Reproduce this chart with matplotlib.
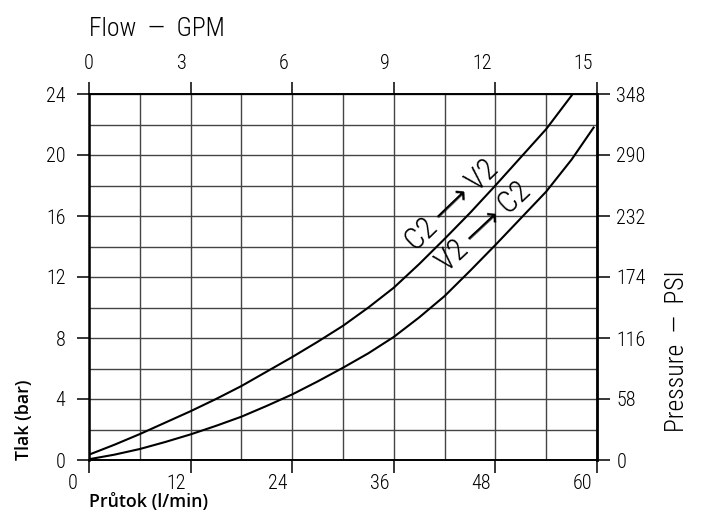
import numpy as np
import matplotlib
matplotlib.use('Agg')
import matplotlib.pyplot as plt
from matplotlib import font_manager
from matplotlib.transforms import ScaledTranslation

#%% data: flow [l/min] vs pressure drop [bar]
flow_c2v2 = [0, 3, 6, 9, 12, 15, 18, 21, 24, 27, 30, 33, 36, 39, 42, 45, 48, 51, 54, 57]
dp_c2v2 = [0.35, 1.0, 1.7, 2.45, 3.2, 4.0, 4.85, 5.8, 6.75, 7.75, 8.8, 10.0,
           11.3, 12.85, 14.5, 16.2, 18.0, 19.85, 21.7, 23.9]

flow_v2c2 = [0, 3, 6, 9, 12, 15, 18, 21, 24, 27, 30, 33, 36, 39, 42, 45, 48, 51, 54, 57, 59.6]
dp_v2c2 = [0.05, 0.35, 0.72, 1.18, 1.68, 2.24, 2.84, 3.55, 4.3, 5.15, 6.05, 7.0,
           8.07, 9.35, 10.75, 12.4, 14.1, 15.85, 17.6, 19.7, 21.8]

x_ticks = [0, 12, 24, 36, 48, 60]
x_grid = [6, 18, 30, 42, 54]
y_ticks = [0, 4, 8, 12, 16, 20, 24]
y_grid = [2, 6, 10, 14, 18, 22]
gpm_labels = ['0', '3', '6', '9', '12', '15']
psi_labels = ['0', '58', '116', '174', '232', '290', '348']

#%% fonts: look for a narrow light face, else DejaVu condensed
def _w(f):
    w = f.weight
    return font_manager.weight_dict.get(w, 400) if isinstance(w, str) else w

order = ['Liberation Sans Narrow', 'Roboto Condensed', 'Noto Sans Condensed', 'Noto Sans',
         'Open Sans Condensed', 'Open Sans', 'DejaVu Sans Condensed', 'DejaVu Sans']
narrow = [f for f in font_manager.fontManager.ttflist
          if f.style == 'normal' and f.name in order
          and ('condensed' in str(f.stretch) or 'Narrow' in f.name or 'Condensed' in f.name)]
narrow.sort(key=lambda f: (order.index(f.name), abs(_w(f) - 300)))
if narrow:
    nf = narrow[0]
    plt.rcParams['font.family'] = [nf.name, 'DejaVu Sans']
    plt.rcParams['font.stretch'] = nf.stretch
    plt.rcParams['font.weight'] = _w(nf)
else:
    plt.rcParams['font.family'] = ['DejaVu Sans']
    plt.rcParams['font.stretch'] = 'condensed'
label_font = dict(family=['Open Sans', 'DejaVu Sans'], fontweight='semibold',
                  fontstretch='normal', fontsize=12.8)

#%%
fig = plt.figure(figsize=(7.05, 5.12), dpi=100)
ax = fig.add_axes([89/705, 1 - 460/512, 508/705, 366/512])
ax.set_xlim(0, 60)
ax.set_ylim(0, 24)

ax.plot(flow_c2v2, dp_c2v2, color='k', lw=1.5, zorder=3)
ax.plot(flow_v2c2, dp_v2c2, color='k', lw=1.5, zorder=3)

ax.set_xticks(x_ticks)
ax.set_xticks(x_grid, minor=True)
ax.set_yticks(y_ticks)
ax.set_yticks(y_grid, minor=True)
ax.grid(True, which='both', color='#444444', lw=1.0)
ax.tick_params(which='minor', length=0)
ax.tick_params(axis='y', which='major', direction='out', length=9, width=1.1, labelsize=14.5, pad=8)
ax.tick_params(axis='x', which='major', direction='out', length=9, width=1.1, labelsize=14.5, pad=1)

for s, w in zip(['left', 'right', 'top', 'bottom'], [1.8, 2.0, 1.4, 1.4]):
    ax.spines[s].set_linewidth(w)

# bottom labels sit left of their tick
for i, lbl in enumerate(ax.get_xticklabels()):
    lbl.set_ha('right')
    dx = -11 if i == 0 else -4.5
    lbl.set_transform(lbl.get_transform() + ScaledTranslation(dx/100, 0, fig.dpi_scale_trans))

# right axis: PSI
axr = ax.twinx()
axr.set_ylim(0, 24)
axr.set_yticks(y_ticks, psi_labels)
axr.tick_params(direction='out', length=9, width=1.1, labelsize=14.5, pad=5)

# top axis: GPM
axt = ax.twiny()
axt.set_xlim(0, 60)
axt.set_xticks(x_ticks, gpm_labels)
axt.tick_params(direction='out', length=9, width=1.1, labelsize=14.5, pad=6)
for i, lbl in enumerate(axt.get_xticklabels()):
    lbl.set_ha('right')
    dx = 4.5 if i == 0 else -4
    lbl.set_transform(lbl.get_transform() + ScaledTranslation(dx/100, 0, fig.dpi_scale_trans))

for a in (axr, axt):
    for s in a.spines.values():
        s.set_visible(False)

#%% curve labels
ax.text(42.9, 16.7, 'C2 ⟶ V2', rotation=44, rotation_mode='anchor',
        ha='center', va='center', fontsize=22, zorder=4)
ax.text(46.6, 15.3, 'V2 ⟶ C2', rotation=43, rotation_mode='anchor',
        ha='center', va='center', fontsize=22, zorder=4)

#%% axis titles
fig.text(89/705, 1 - 36/512, 'Flow  —  GPM', fontsize=18.5, ha='left', va='baseline')
fig.text(689/705, 1 - 432/512, 'Pressure  —  PSI', fontsize=18.5, rotation=90,
         ha='right', va='bottom')
fig.text(89/705, 1 - 507/512, 'Průtok (l/min)', ha='left', va='baseline', **label_font)
fig.text(15/705, 1 - 460/512, 'Tlak (bar)', rotation=90, ha='left', va='bottom', **label_font)

fig.savefig('out.png', dpi=100)
